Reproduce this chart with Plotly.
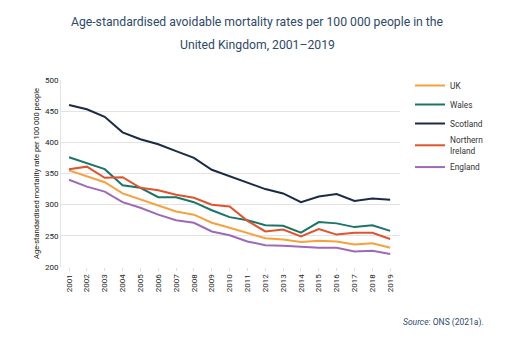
import plotly.graph_objects as go

years = list(range(2001, 2020))
uk = [355, 345, 336, 318, 308, 298, 289, 284, 271, 263, 254, 246, 244, 240, 242, 241, 236, 238, 231]
wales = [376, 366, 357, 331, 327, 312, 312, 304, 291, 280, 275, 267, 266, 255, 272, 270, 264, 267, 258]
scotland = [460, 453, 441, 416, 405, 397, 386, 375, 356, 346, 336, 325, 318, 304, 313, 317, 306, 310, 308]
ni = [357, 361, 343, 344, 327, 323, 316, 311, 300, 297, 274, 257, 260, 249, 261, 252, 255, 255, 245]
england = [340, 329, 321, 304, 295, 284, 275, 271, 257, 251, 241, 235, 234, 232, 231, 231, 225, 226, 221]

series = [
    ("UK", uk, "#F7A03C"),
    ("Wales", wales, "#1B7468"),
    ("Scotland", scotland, "#1B2A47"),
    ("Northern<br>Ireland", ni, "#E0532C"),
    ("England", england, "#9C6AB8"),
]

title_lines = ["Age-standardised avoidable mortality rates per 100 000 people in the",
               "United Kingdom, 2001\u20132019"]

FONT = "Roboto, sans-serif"
W, H = 516, 364
L, R, T, B = 61, 116, 80, 97
PW, PH = W - L - R, H - T - B

fig = go.Figure()
for name, vals, col in series:
    fig.add_trace(go.Scatter(x=years, y=vals, name=name, mode="lines",
                             line=dict(color=col, width=2)))

fig.update_layout(
    width=W, height=H,
    margin=dict(l=L, r=R, t=T, b=B, autoexpand=False),
    paper_bgcolor="white", plot_bgcolor="white",
    font=dict(family=FONT, size=8, color="#333333"),
    hovermode=False,
    showlegend=True,
    legend=dict(x=(410 - L) / PW, y=1 + 9 / PH, xanchor="left", yanchor="top",
                font=dict(family=FONT, size=8.3, color="#333333"),
                itemwidth=30, bgcolor="rgba(0,0,0,0)"),
    xaxis=dict(range=[2000.55, 2019.55], tickmode="array", tickvals=years,
               ticktext=[str(y) for y in years], tickangle=-90, automargin=False,
               showgrid=False, zeroline=False, showline=False,
               ticks="outside", ticklen=3, tickcolor="#dddddd",
               tickfont=dict(family=FONT, size=8, color="#222222")),
    yaxis=dict(range=[200, 500], tickvals=[200, 250, 300, 350, 400, 450, 500],
               automargin=False,
               showgrid=True, gridcolor="#e3e3e3", gridwidth=1, zeroline=False,
               showline=True, linecolor="#e3e3e3", linewidth=1,
               tickfont=dict(family=FONT, size=8, color="#222222"),
               title=dict(text="Age-standardised mortality rate per 100 000 people",
                          font=dict(family=FONT, size=7.5, color="#222222"),
                          standoff=4)),
)

for line_text, ypix in zip(title_lines, [22, 45]):
    fig.add_annotation(text=line_text, xref="paper", yref="paper",
                       x=(257 - L) / PW, y=1 + (T - ypix) / PH,
                       xanchor="center", yanchor="middle", showarrow=False,
                       font=dict(family=FONT, size=12.2, color="#2E4A68"))

fig.add_annotation(text="<i>Source</i>: ONS (2021a).", xref="paper", yref="paper",
                   x=(486 - L) / PW, y=-(322 - 267) / PH, xanchor="right", yanchor="middle",
                   showarrow=False, font=dict(family=FONT, size=8.5, color="#2E4A68"))

fig.write_html("out.html", config={"displayModeBar": False, "staticPlot": True},
               post_script="document.body.style.margin='0';")
